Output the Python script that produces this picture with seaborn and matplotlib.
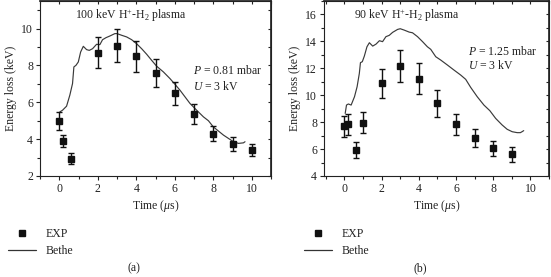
import numpy as np
import pandas as pd
import matplotlib
matplotlib.use("Agg")
import matplotlib.pyplot as plt
from matplotlib.lines import Line2D
from matplotlib.ticker import MultipleLocator
import seaborn as sns

# panel (a): 100 keV
exp_a_t = [0, 0.2, 0.6, 2, 3, 4, 5, 6, 7, 8, 9, 10]
exp_a_e = [5.0, 3.9, 2.93, 8.7, 9.08, 8.5, 7.6, 6.48, 5.36, 4.3, 3.72, 3.4]
exp_a_err = [0.5, 0.35, 0.3, 0.85, 0.9, 0.83, 0.75, 0.65, 0.53, 0.4, 0.38, 0.32]
bethe_a_t = [0.03, 0.17, 0.38, 0.55, 0.69, 0.76, 0.87, 0.99, 1.11, 1.25, 1.42, 1.56,
             1.73, 1.94, 2.11, 2.25, 2.43, 2.63, 2.89, 3.0, 3.24, 3.5, 3.76, 4.02,
             4.28, 4.54, 4.8, 5.06, 5.41, 5.75, 6.01, 6.27, 6.53, 6.79, 7.14, 7.49,
             7.75, 8.0, 8.27, 8.53, 8.79, 9.05, 9.31, 9.57, 9.65]
bethe_a_e = [5.48, 5.57, 5.79, 6.39, 7.02, 7.92, 8.01, 8.19, 8.73, 9.04, 8.86, 8.82,
             8.91, 9.15, 9.13, 9.4, 9.51, 9.6, 9.73, 9.73, 9.64, 9.55, 9.4, 9.18,
             8.91, 8.61, 8.28, 7.96, 7.65, 7.29, 6.98, 6.66, 6.3, 5.94, 5.57, 5.21,
             5.0, 4.67, 4.44, 4.22, 4.04, 3.86, 3.77, 3.8, 3.86]

# panel (b): 90 keV
exp_b_t = [0, 0.2, 0.6, 1, 2, 3, 4, 5, 6, 7, 8, 9]
exp_b_e = [7.71, 7.86, 5.93, 7.96, 10.88, 12.17, 11.23, 9.4, 7.84, 6.8, 6.05, 5.6]
exp_b_err = [0.78, 0.78, 0.58, 0.78, 1.07, 1.17, 1.15, 1.0, 0.8, 0.68, 0.58, 0.58]
bethe_b_t = [0.04, 0.11, 0.21, 0.36, 0.54, 0.68, 0.8, 0.86, 0.96, 1.07, 1.21, 1.34,
             1.52, 1.7, 1.88, 2.05, 2.23, 2.41, 2.59, 2.86, 3.0, 3.21, 3.48, 3.66,
             3.93, 4.2, 4.46, 4.64, 4.91, 5.18, 5.54, 5.89, 6.25, 6.52, 6.79, 7.14,
             7.5, 7.82, 8.13, 8.48, 8.75, 9.02, 9.29, 9.46, 9.55, 9.64]
bethe_b_e = [8.65, 9.27, 9.35, 9.27, 9.89, 10.63, 11.62, 12.42, 12.49, 12.91, 13.6, 13.9,
             13.65, 13.8, 14.05, 13.98, 14.35, 14.45, 14.67, 14.89, 14.94, 14.84, 14.69, 14.64,
             14.35, 13.98, 13.6, 13.41, 12.86, 12.61, 12.24, 11.87, 11.5, 11.18, 10.58, 9.89,
             9.27, 8.85, 8.28, 7.79, 7.47, 7.29, 7.22, 7.22, 7.29, 7.37]

sns.set_theme(style="ticks")
plt.rcParams["font.family"] = ["Liberation Serif", "DejaVu Serif"]
plt.rcParams["mathtext.fontset"] = "custom"
plt.rcParams["mathtext.rm"] = "Liberation Serif"
plt.rcParams["mathtext.it"] = "Liberation Serif:italic"
plt.rcParams["font.size"] = 8
txt = "#222222"

fig = plt.figure(figsize=(5.51, 2.77), dpi=100)
ax_a = fig.add_axes([40 / 551, 101 / 277, 231 / 551, 175 / 277])
ax_b = fig.add_axes([324 / 551, 101 / 277, 225 / 551, 175 / 277])

panels = [
    (ax_a, exp_a_t, exp_a_e, exp_a_err, bethe_a_t, bethe_a_e, (-1, 11), (2, 11.5), 2,
     "100 keV H$^{+}$-H$_{2}$ plasma", 0.15, "0.81", 0.662, 0.60, 0.514),
    (ax_b, exp_b_t, exp_b_e, exp_b_err, bethe_b_t, bethe_b_e, (-1.1, 11), (4, 17), 2,
     "90 keV H$^{+}$-H$_{2}$ plasma", 0.133, "1.25", 0.639, 0.71, 0.634),
]

for (ax, et, ee, err, bt, be, xl, yl, ystep, title, tx, p, px, py1, py2) in panels:
    sns.lineplot(x=bt, y=be, ax=ax, color="#3a3a3a", lw=0.85, sort=False)
    ax.errorbar(et, ee, yerr=err, fmt="s", color="#111111", ms=3.8,
                elinewidth=1.0, capsize=2.2, capthick=1.0)
    ax.set_xlim(*xl)
    ax.set_ylim(*yl)
    ax.xaxis.set_major_locator(MultipleLocator(2))
    ax.xaxis.set_minor_locator(MultipleLocator(1))
    ax.yaxis.set_major_locator(MultipleLocator(ystep))
    ax.yaxis.set_minor_locator(MultipleLocator(ystep / 2))
    ax.tick_params(which="both", direction="out", width=0.8, colors="#222222",
                   labelsize=8.5, labelcolor=txt, pad=2)
    ax.tick_params(which="major", length=3)
    ax.tick_params(which="minor", length=2.5)
    for s in ax.spines.values():
        s.set_linewidth(0.8)
        s.set_color("#222222")

    # inward ticks on the top and right frame
    sec_x = ax.secondary_xaxis("top")
    sec_y = ax.secondary_yaxis("right")
    sec_x.xaxis.set_major_locator(MultipleLocator(2))
    sec_x.xaxis.set_minor_locator(MultipleLocator(1))
    sec_y.yaxis.set_major_locator(MultipleLocator(ystep))
    sec_y.yaxis.set_minor_locator(MultipleLocator(ystep / 2))
    sec_x.tick_params(which="both", direction="in", length=2.5, width=0.8,
                      labeltop=False, colors="#222222")
    sec_y.tick_params(which="both", direction="in", length=2.5, width=0.8,
                      labelright=False, colors="#222222")

    ax.set_xlabel("Time ($\\mu$s)", fontsize=8.5, color=txt, labelpad=2)
    ax.set_ylabel("Energy loss (keV)", fontsize=8.5, color=txt, labelpad=3)
    ax.text(tx, 0.914, title, transform=ax.transAxes, fontsize=8.5, color=txt,
            va="center", ha="left")
    ax.text(px, py1, "$P$ = " + p + " mbar", transform=ax.transAxes, fontsize=8.5,
            color=txt, va="center", ha="left")
    ax.text(px, py2, "$U$ = 3 kV", transform=ax.transAxes, fontsize=8.5,
            color=txt, va="center", ha="left")

handles = [
    Line2D([], [], marker="s", ls="none", color="#111111", ms=3.8),
    Line2D([], [], color="#333333", lw=0.9),
]
for lx, lab, cx in [(2 / 551, "(a)", 134 / 551), (298 / 551, "(b)", 420 / 551)]:
    fig.legend(handles, ["EXP", "Bethe"], loc="upper left",
               bbox_to_anchor=(lx, 1 - 222 / 277), frameon=False, fontsize=8.5,
               handlelength=2.4, handletextpad=0.8, labelspacing=0.45,
               borderpad=0, labelcolor=txt)
    fig.text(cx, 1 - 268 / 277, lab, ha="center", va="center", fontsize=8.5, color=txt)

fig.savefig("out.png", dpi=100)
